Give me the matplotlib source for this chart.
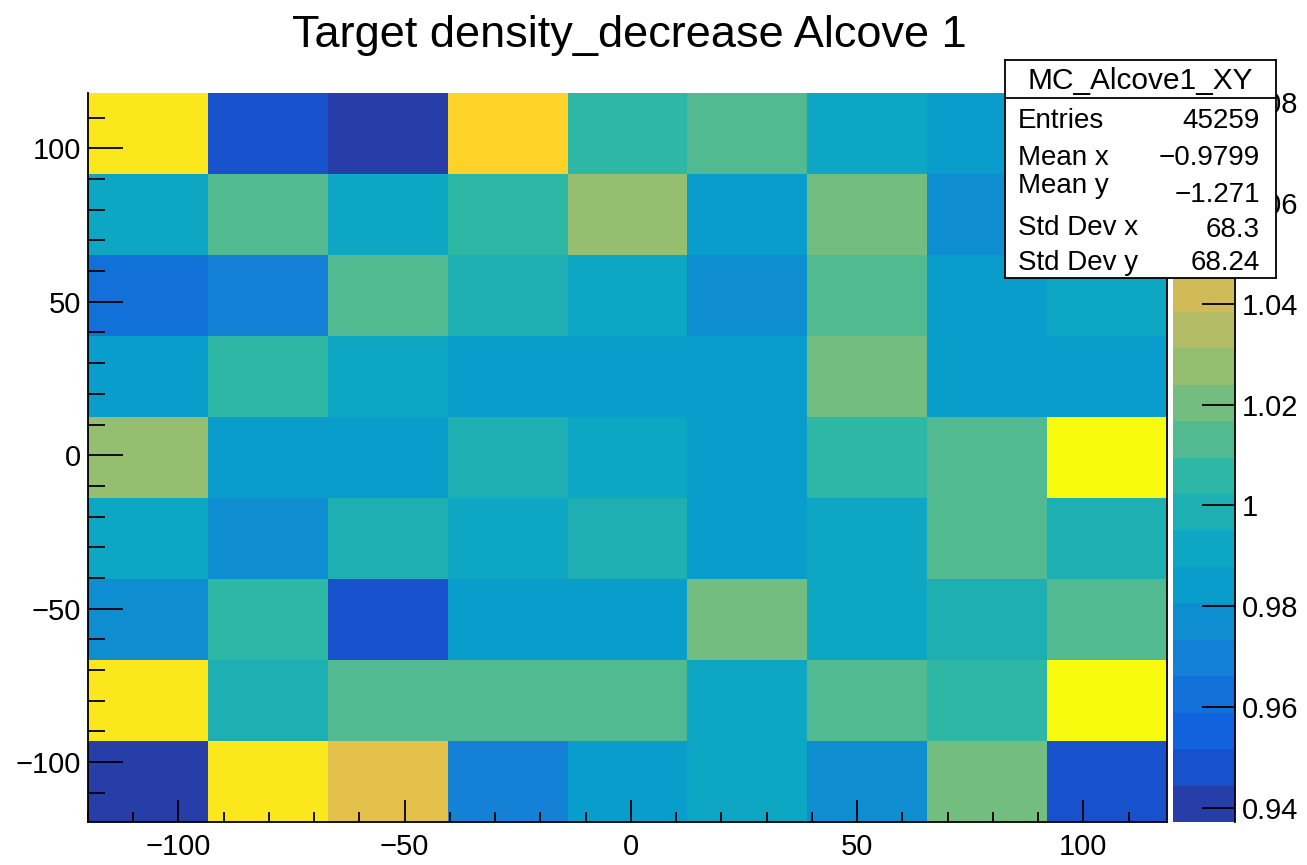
#!/usr/bin/python
# -*- coding:utf-8 -*-

import numpy as np
import matplotlib
matplotlib.use("Agg")
import matplotlib.pyplot as plt
from matplotlib.colors import ListedColormap, BoundaryNorm
from matplotlib.ticker import MultipleLocator, FuncFormatter

# 9x9 bins, rows listed top (y ~ +105) to bottom (y ~ -106)
x_range = (-120.0, 118.5)
y_range = (-119.5, 118.0)
n_bins = 9
rows = [
    [1.071, 0.948, 0.941, 1.064, 1.006, 1.013, 0.991, 0.984, 0.991],
    [0.991, 1.013, 0.991, 1.006, 1.028, 0.984, 1.020, 0.977, 0.999],
    [0.963, 0.970, 1.013, 0.999, 0.991, 0.977, 1.013, 0.984, 0.991],
    [0.984, 1.006, 0.991, 0.984, 0.984, 0.984, 1.020, 0.984, 0.984],
    [1.028, 0.984, 0.984, 0.999, 0.991, 0.984, 1.006, 1.013, 1.0818],
    [0.991, 0.977, 0.999, 0.991, 0.999, 0.984, 0.991, 1.013, 0.999],
    [0.977, 1.006, 0.948, 0.984, 0.984, 1.020, 0.991, 0.999, 1.013],
    [1.071, 0.999, 1.013, 1.013, 1.013, 0.991, 1.013, 1.006, 1.078],
    [0.9372, 1.071, 1.049, 0.970, 0.984, 0.991, 0.977, 1.020, 0.948],
]
cbar_ticks = [0.94, 0.96, 0.98, 1.00, 1.02, 1.04, 1.06, 1.08]

title = "Target density_decrease Alcove 1"
stats_name = "MC_Alcove1_XY"
stat_labels = ["Entries", "Mean x", "Mean y", "Std Dev x", "Std Dev y"]
stat_values = ["45259", "\u22120.9799", "\u22121.271", "68.3", "68.24"]

# ROOT kBird palette
bird_stops = [0.0, 0.125, 0.25, 0.375, 0.5, 0.625, 0.75, 0.875, 1.0]
bird_r = [0.2082, 0.0592, 0.0780, 0.0232, 0.1802, 0.5301, 0.8186, 0.9956, 0.9764]
bird_g = [0.1664, 0.3599, 0.5041, 0.6419, 0.7178, 0.7492, 0.7328, 0.7862, 0.9832]
bird_b = [0.5293, 0.8684, 0.8385, 0.7914, 0.6425, 0.4662, 0.3499, 0.1968, 0.0539]
n_contours = 20

W, H = 1307.0, 865.0


def px_box(left, top, right, bottom):
    return [left / W, 1 - bottom / H, (right - left) / W, (bottom - top) / H]


def main():
    plt.rcParams['font.family'] = ['Liberation Sans', 'DejaVu Sans']

    z = np.flipud(np.array(rows))
    x_edges = np.linspace(x_range[0], x_range[1], n_bins + 1)
    y_edges = np.linspace(y_range[0], y_range[1], n_bins + 1)

    # same level -> colour mapping as ROOT COLZ with 20 contours
    cols = []
    for k in range(n_contours):
        idx = int((k + 0.99) * 255 / n_contours)
        t = min(idx / 254.0, 1.0)
        cols.append((np.interp(t, bird_stops, bird_r),
                     np.interp(t, bird_stops, bird_g),
                     np.interp(t, bird_stops, bird_b)))
    cmap = ListedColormap(cols)
    levels = np.linspace(z.min(), z.max(), n_contours + 1)
    norm = BoundaryNorm(levels, n_contours)

    fig = plt.figure(figsize=(W / 100, H / 100), dpi=100)
    ax = fig.add_axes(px_box(88, 93, 1167, 822))
    mesh = ax.pcolormesh(x_edges, y_edges, z, cmap=cmap, norm=norm)
    ax.set_xlim(*x_range)
    ax.set_ylim(*y_range)
    for a in (ax.xaxis, ax.yaxis):
        a.set_major_locator(MultipleLocator(50))
        a.set_minor_locator(MultipleLocator(10))
    ax.tick_params(which='both', direction='in', top=False, right=False,
                   labelsize=21, width=1.3)
    ax.tick_params(axis='y', which='major', length=25, pad=5)
    ax.tick_params(axis='y', which='minor', length=12)
    ax.tick_params(axis='x', which='major', length=16, pad=8)
    ax.tick_params(axis='x', which='minor', length=7.5)
    ax.spines['top'].set_visible(False)
    for s in ('left', 'bottom', 'right'):
        ax.spines[s].set_linewidth(1.3)

    cax = fig.add_axes(px_box(1173, 93, 1235, 822))
    cb = fig.colorbar(mesh, cax=cax, ticks=cbar_ticks)
    cb.outline.set_visible(False)
    cax.plot([1, 1], [0, 1], transform=cax.transAxes, color='black', lw=1.3, clip_on=False)
    cax.yaxis.set_major_formatter(FuncFormatter(lambda v, p: f"{v:g}"))
    cax.minorticks_off()
    cax.tick_params(direction='in', length=24, width=1.3, pad=5, labelsize=21,
                    right=True, left=False)

    fig.text(629 / W, 1 - 47 / H, title, ha='center', va='baseline', fontsize=32.5)

    # stats box
    bx = fig.add_axes(px_box(1005, 60, 1276, 278))
    bx.set_xlim(0, 1)
    bx.set_ylim(0, 1)
    bx.set_xticks([])
    bx.set_yticks([])
    for s in bx.spines.values():
        s.set_linewidth(1.3)
    bx.axhline((278 - 98) / 218.0, color='black', lw=1.3)
    bx.text(0.5, (278 - 89) / 218.0, stats_name, ha='center', va='baseline', fontsize=21.5)
    lab_base = [128, 165, 193, 235, 270]
    val_base = [128, 165, 202, 237, 270]
    for lab, val, lb, vb in zip(stat_labels, stat_values, lab_base, val_base):
        bx.text(0.048, (278 - lb) / 218.0, lab, ha='left', va='baseline', fontsize=20)
        bx.text(0.941, (278 - vb) / 218.0, val, ha='right', va='baseline', fontsize=20)

    fig.savefig("out.png", dpi=100)


if __name__ == '__main__':
    main()
